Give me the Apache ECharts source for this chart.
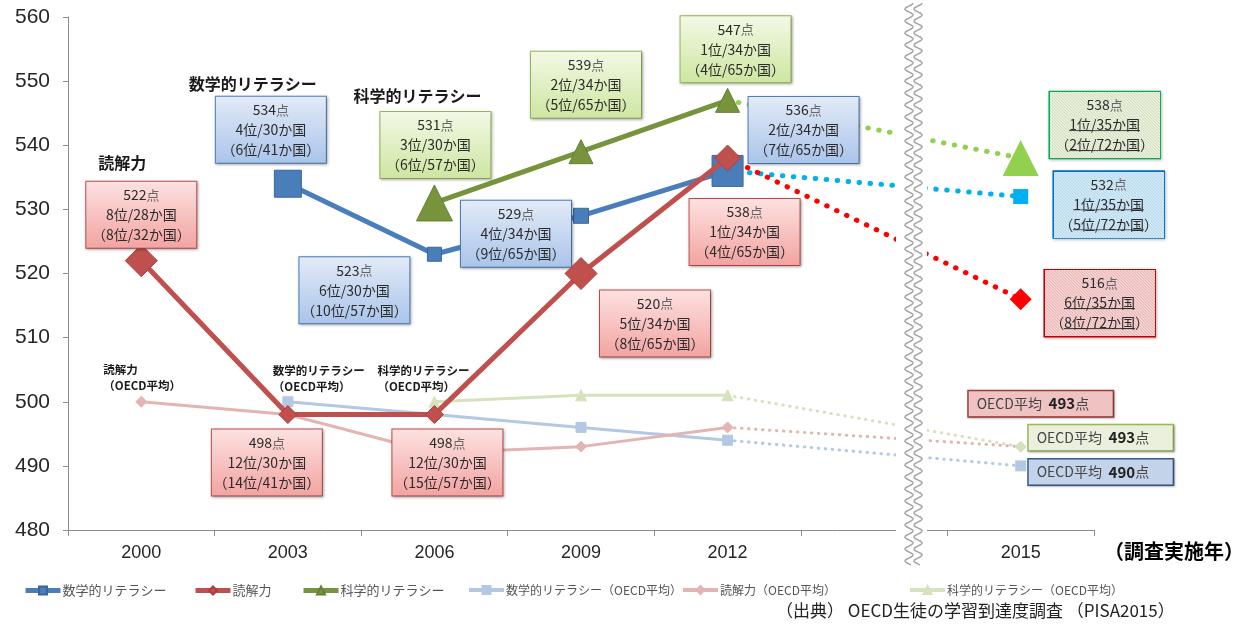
<!DOCTYPE html>
<html><head><meta charset="utf-8">
<script src="https://cdn.jsdelivr.net/npm/echarts@6/dist/echarts.min.js"></script>
<style>html,body{margin:0;padding:0;background:#fff}#c{width:1246px;height:625px}</style>
</head><body><div id="c"></div>
<script>
// ---- data ----
const years = ['2000','2003','2006','2009','2012','','2015'];
const mathScores    = [null,534,523,529,536,null,532];
const readingScores = [522,498,498,520,538,null,516];
const scienceScores = [null,null,531,539,547,null,538];
const mathOECD    = [null,500,498,496,494,null,490];
const readingOECD = [500,498,492,493,496,null,493];
const scienceOECD = [null,null,500,501,501,null,493];
const mathRanks = [null,['4位/30か国','6位/41か国'],['6位/30か国','10位/57か国'],['4位/34か国','9位/65か国'],['2位/34か国','7位/65か国'],null,['1位/35か国','5位/72か国']];
const readingRanks = [['8位/28か国','8位/32か国'],['12位/30か国','14位/41か国'],['12位/30か国','15位/57か国'],['5位/34か国','8位/65か国'],['1位/34か国','4位/65か国'],null,['6位/35か国','8位/72か国']];
const scienceRanks = [null,null,['3位/30か国','6位/57か国'],['2位/34か国','5位/65か国'],['1位/34か国','4位/65か国'],null,['1位/35か国','2位/72か国']];
const seriesNames = ['数学的リテラシー','読解力','科学的リテラシー','数学的リテラシー（OECD平均）','読解力（OECD平均）','科学的リテラシー（OECD平均）'];
const oecdTitles = ['数学的リテラシー\n（OECD平均）','読解力\n（OECD平均）','科学的リテラシー\n（OECD平均）'];
const yMin = 480, yMax = 560, yStep = 10;

// ---- styling (positions / sizes) ----
const FONT = "'Noto Sans CJK JP','Noto Sans',sans-serif";
const mathOff    = [null,[-17,-54],[-80,36],[-65,18],[76,-41],null,[88,8]];
const readingOff = [[0,-46],[-21,48],[13,48],[74,50],[17,74],null,[79,4]];
const scienceOff = [null,null,[1,-58],[5,-67],[8,-51],null,[84,-33]];
const mathSizes    = [0,27,14,15,31,0,15];
const readingSizes = [32,18,18,32,26,0,22];
const scienceSizes = [0,0,36,24,24,0,36];

function grad(a,b){return new echarts.graphic.LinearGradient(0,0,0,1,[{offset:0,color:a},{offset:1,color:b}]);}
function hatch(w,h,bg,line){
  const c=document.createElement('canvas'); c.width=w; c.height=h;
  const g=c.getContext('2d'); g.fillStyle=bg; g.fillRect(0,0,w,h);
  g.strokeStyle=line; g.lineWidth=1;
  for(let k=-h;k<w+h;k+=3){g.beginPath(); g.moveTo(k,0); g.lineTo(k+h,h); g.stroke();}
  return c;
}
function underlineImg(){
  const c=document.createElement('canvas'); c.width=20; c.height=20;
  const g=c.getContext('2d'); g.fillStyle='#333'; g.fillRect(0,17,20,1.2);
  return c;
}
const ULINE = underlineImg();
const boxMath    = {bg:grad('#e3ebf7','#a9c4ea'), border:'#4f81bd', bw:1};
const boxReading = {bg:grad('#fde2e1','#f2a3a1'), border:'#c0504d', bw:1};
const boxScience = {bg:grad('#f3f9e6','#cde6a0'), border:'#9bbb59', bw:1};
const box15Math    = {bg:{image:hatch(110,66,'#dcf0fa','#9fcbe6')}, border:'#0070c0', bw:2.5, u:true};
const box15Reading = {bg:{image:hatch(110,66,'#f8dcdc','#e3a0a0')}, border:'#c00000', bw:2.5, u:true};
const box15Science = {bg:{image:hatch(110,66,'#eff4e4','#c8d6ae')}, border:'#00b050', bw:2.5, u:true};

function boxLabel(v, rank, off, st){
  const l2 = st.u ? '{u|'+rank[0]+'}' : '{r|'+rank[0]+'}';
  const l3 = st.u ? '{r|（}{u|'+rank[1]+'}{r|）}' : '{r|（'+rank[1]+'）}';
  return {
    show:true, position:'inside', offset:off,
    formatter:'{n|'+v+'}{p|点}\n'+l2+'\n'+l3,
    backgroundColor:st.bg, borderColor:st.border, borderWidth:st.bw,
    padding:[3,4], width:102, align:'center', verticalAlign:'middle',
    shadowBlur:3, shadowColor:'rgba(0,0,0,0.3)', shadowOffsetX:1, shadowOffsetY:1,
    rich:{
      n:{fontSize:14, color:'#2b2b2b', fontFamily:FONT, lineHeight:20},
      p:{fontSize:13, color:'#666', fontFamily:FONT, lineHeight:20},
      r:{fontSize:14, color:'#2b2b2b', fontFamily:FONT, lineHeight:20},
      u:{fontSize:14, color:'#2b2b2b', fontFamily:FONT, lineHeight:20, backgroundColor:{image:ULINE}}
    }
  };
}
function oecdLabel(v, off, st){
  return {
    show:true, position:'inside', offset:off,
    formatter:'{a|OECD平均}  {b|'+v+'}{c|点}',
    backgroundColor:st.bg, borderColor:st.border, borderWidth:1.5,
    padding:[2,8], width:128, align:'left', verticalAlign:'middle',
    shadowBlur:2, shadowColor:'rgba(0,0,0,0.25)', shadowOffsetX:1, shadowOffsetY:1,
    rich:{
      a:{fontSize:14, color:'#444', fontFamily:FONT, lineHeight:21},
      b:{fontSize:15, color:'#222', fontWeight:'bold', fontFamily:FONT, lineHeight:21},
      c:{fontSize:14, color:'#444', fontFamily:FONT, lineHeight:21}
    }
  };
}

function solid(name, scores, color, dark, symbol, sizes, ranks, offs, st, z, lw){
  return {
    name, type:'line', z, symbol, symbolSize:10, connectNulls:false,
    lineStyle:{color, width:lw}, itemStyle:{color, borderColor:dark, borderWidth:1},
    emphasis:{disabled:true},
    data: scores.map((v,i)=>{
      if (i>4 || v==null) return null;
      const d = {value:v};
      if (sizes) d.symbolSize = sizes[i];
      if (ranks && ranks[i] && offs && offs[i]) d.label = boxLabel(v, ranks[i], offs[i], st);
      return d;
    })
  };
}
function dotted(name, scores, color, symbol, size, lw, dash, z, label){
  return {
    name, type:'line', z, symbol, connectNulls:true,
    lineStyle:{color, width:lw, type:dash, cap:'round'}, itemStyle:{color},
    emphasis:{disabled:true},
    data: scores.map((v,i)=>{
      if (i===4) return {value:v, symbol:'none', symbolSize:0};
      if (i===6) { const d={value:v, symbolSize:size}; if (label) d.label=label; return d; }
      return null;
    })
  };
}
function titleMark(coord, text, off, fs){
  return {symbol:'circle', symbolSize:0, silent:true,
    data:[{coord, label:{show:true, position:'inside', offset:off, formatter:text,
      fontSize:fs, fontWeight:'bold', color:'#1a1a1a', fontFamily:FONT, align:'left', verticalAlign:'middle', lineHeight:fs+4}}]};
}

const cMath='#4a7ebb', cRead='#c0504d', cSci='#77933c';
const cMathO='#b3c8e3', cReadO='#e4b4b3', cSciO='#d5e2bb';

const sMathO = solid(seriesNames[3], mathOECD, cMathO, cMathO, 'rect', null, null, null, null, 2, 3);
sMathO.symbolSize = 10;
sMathO.markPoint = titleMark(['2003',500], oecdTitles[0], [-15,-23], 11.5);
const sReadO = solid(seriesNames[4], readingOECD, cReadO, cReadO, 'diamond', null, null, null, null, 2, 3);
sReadO.symbolSize = 11;
sReadO.markPoint = titleMark(['2000',500], oecdTitles[1], [-38,-24], 11.5);
const sSciO = solid(seriesNames[5], scienceOECD, cSciO, cSciO, 'triangle', null, null, null, null, 2, 3);
sSciO.symbolSize = 11;
sSciO.markPoint = titleMark(['2006',500], oecdTitles[2], [-57,-23], 11.5);

const dMathO = dotted('m_oecd_2015', mathOECD, cMathO, 'rect', 11, 3, [0.5,6.5], 2,
  oecdLabel(mathOECD[6], [8,6], {bg:'#c3d4ea', border:'#385d8a'}));
const dReadO = dotted('r_oecd_2015', readingOECD, cReadO, 'diamond', 11, 3, [0.5,6.5], 2,
  oecdLabel(readingOECD[6], [-52,-43], {bg:'#efc3c2', border:'#a33e3b'}));
const dSciO = dotted('s_oecd_2015', scienceOECD, cSciO, 'diamond', 12, 3, [0.5,6.5], 2,
  oecdLabel(scienceOECD[6], [8,-9], {bg:'#eaf0dc', border:'#9bbb59'}));

const dMath = dotted('m_2015', mathScores, '#00b0f0', 'rect', mathSizes[6], 5, [0.5,10.5], 3,
  boxLabel(mathScores[6], mathRanks[6], mathOff[6], box15Math));
const dRead = dotted('r_2015', readingScores, '#ff0000', 'diamond', readingSizes[6], 5, [0.5,10.5], 3,
  boxLabel(readingScores[6], readingRanks[6], readingOff[6], box15Reading));
const dSci = dotted('s_2015', scienceScores, '#92d050', 'triangle', scienceSizes[6], 5, [0.5,10.5], 3,
  boxLabel(scienceScores[6], scienceRanks[6], scienceOff[6], box15Science));

const sMath = solid(seriesNames[0], mathScores, cMath, '#3a6698', 'rect', mathSizes, mathRanks, mathOff, boxMath, 4, 5);
sMath.markPoint = titleMark(['2003',534], '数学的リテラシー', [-99,-100], 16);
const sRead = solid(seriesNames[1], readingScores, cRead, '#a8403d', 'diamond', readingSizes, readingRanks, readingOff, boxReading, 5, 5);
sRead.markPoint = titleMark(['2000',522], '読解力', [-43,-98], 16);
const sSci = solid(seriesNames[2], scienceScores, cSci, '#63803a', 'triangle', scienceSizes, scienceRanks, scienceOff, boxScience, 4, 5);
sSci.markPoint = titleMark(['2006',531], '科学的リテラシー', [-81,-107], 16);

const legendLefts = [18,188,296,462,676,903];
const legendFont  = [13,13,13,12,12,12];
const legendLW    = [5,5,5,4,4,4];
const legends = seriesNames.map((n,i)=>({
  data:[n], left:legendLefts[i], top:579, itemWidth:35, itemHeight:10, itemGap:0,
  lineStyle:{width:legendLW[i]},
  textStyle:{fontSize:legendFont[i], color:'#555', fontFamily:FONT, padding:[0,0,0,-3]}
}));

function wave(x0){
  const pts=[];
  for (let y=3; y<=565; y+=1) pts.push([x0 + 4*Math.sin(y*2*Math.PI/12), y]);
  return pts;
}

const chart = echarts.init(document.getElementById('c'), null, {renderer:'canvas'});
chart.setOption({
  animation:false,
  backgroundColor:'#fff',
  grid:{left:68, right:152, top:17, bottom:95, containLabel:false, outerBoundsMode:'none'},
  legend: legends,
  xAxis:{
    type:'category', data:years, boundaryGap:true,
    axisLine:{lineStyle:{color:'#8c8c8c', width:1}},
    axisTick:{show:true, length:6, lineStyle:{color:'#8c8c8c'}},
    axisLabel:{fontSize:18, color:'#262626', margin:14, fontFamily:"'Liberation Sans',Arial,sans-serif", interval:0}
  },
  yAxis:{
    type:'value', min:yMin, max:yMax, interval:yStep,
    axisLine:{show:true, lineStyle:{color:'#8c8c8c', width:1}},
    axisTick:{show:true, length:5, lineStyle:{color:'#8c8c8c'}},
    splitLine:{show:false},
    axisLabel:{fontSize:21, color:'#262626', margin:18, fontFamily:"'Liberation Sans',Arial,sans-serif"}
  },
  series:[sMathO, sReadO, sSciO, dMathO, dReadO, dSciO, dMath, dRead, dSci, sMath, sRead, sSci],
  graphic:[
    {type:'rect', z:100, shape:{x:896,y:0,width:31,height:568}, style:{fill:'#fff'}},
    {type:'polyline', z:101, shape:{points:wave(909), smooth:0.3}, style:{stroke:'#a6a6a6', lineWidth:1.5, fill:null}},
    {type:'polyline', z:101, shape:{points:wave(918), smooth:0.3}, style:{stroke:'#a6a6a6', lineWidth:1.5, fill:null}},
    {type:'text', z:102, right:2, top:541, style:{text:'（調査実施年）', font:"bold 20px "+FONT, fill:'#000'}},
    {type:'text', z:102, left:776, top:602, style:{text:'（出典） OECD生徒の学習到達度調査 （PISA2015）', font:"17px "+FONT, fill:'#222'}}
  ]
});
</script>
</body></html>
